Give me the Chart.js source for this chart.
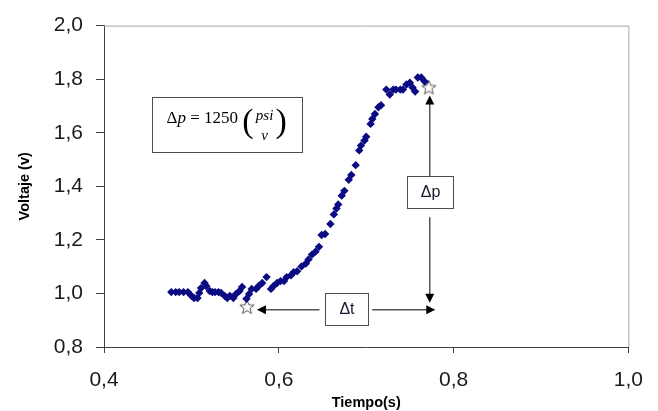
<!DOCTYPE html>
<html>
<head>
<meta charset="utf-8">
<script src="https://cdn.jsdelivr.net/npm/chart.js@4/dist/chart.umd.min.js"></script>
<style>
  html, body { margin: 0; padding: 0; background: #fff; }
</style>
</head>
<body>
<canvas id="voltage-chart" width="658" height="411"></canvas>
<script>
// measured samples: time (s) and voltage (v)
const timeValues = [
  0.477, 0.482, 0.486, 0.491, 0.496, 0.500, 0.503, 0.507, 0.509, 0.511,
  0.515, 0.517, 0.521, 0.524, 0.527, 0.531, 0.534, 0.538, 0.541, 0.544,
  0.548, 0.551, 0.555, 0.558, 0.563, 0.566, 0.569, 0.574, 0.577, 0.581,
  0.586, 0.591, 0.594, 0.598, 0.602, 0.606, 0.609, 0.614, 0.617, 0.621,
  0.626, 0.631, 0.634, 0.638, 0.642, 0.646, 0.649, 0.653, 0.659, 0.663,
  0.666, 0.668, 0.672, 0.675, 0.680, 0.683, 0.688, 0.692, 0.694, 0.698,
  0.700, 0.705, 0.707, 0.710, 0.714, 0.717, 0.723, 0.727, 0.731, 0.734,
  0.739, 0.742, 0.746, 0.750, 0.753, 0.756, 0.759, 0.763, 0.767
];
const voltageValues = [
  1.005, 1.005, 1.005, 1.005, 1.005, 0.991, 0.983, 0.983, 1.002, 1.020,
  1.039, 1.028, 1.009, 1.005, 1.005, 1.005, 1.002, 0.991, 0.983, 0.991,
  0.983, 0.998, 1.009, 1.024, 0.980, 0.998, 1.017, 1.017, 1.028, 1.039,
  1.061, 1.017, 1.028, 1.039, 1.046, 1.046, 1.061, 1.068, 1.079, 1.083,
  1.101, 1.112, 1.127, 1.145, 1.156, 1.174, 1.218, 1.222, 1.259, 1.295,
  1.317, 1.332, 1.365, 1.383, 1.424, 1.442, 1.479, 1.534, 1.552, 1.571,
  1.585, 1.633, 1.651, 1.670, 1.695, 1.703, 1.761, 1.743, 1.761, 1.761,
  1.761, 1.761, 1.780, 1.787, 1.769, 1.754, 1.806, 1.806, 1.791
];
// start and end of the pressure step (star markers)
const markerTimes = [0.5636, 0.7716];
const markerVoltages = [0.950, 1.769];

const xTicks = [0.4, 0.6, 0.8, 1.0];
const yTicks = [0.8, 1.0, 1.2, 1.4, 1.6, 1.8, 2.0];

function toPoints(xs, ys) {
  return xs.map((x, i) => ({ x: x, y: ys[i] }));
}

function commaLabel(value) {
  return (Math.round(value * 10) / 10).toFixed(1).replace('.', ',');
}

// hollow five point star used as point style
function makeStar() {
  const c = document.createElement('canvas');
  c.width = 18;
  c.height = 18;
  const g = c.getContext('2d');
  g.beginPath();
  for (let i = 0; i < 10; i++) {
    const r = i % 2 === 0 ? 7.5 : 3.2;
    const a = -Math.PI / 2 + i * Math.PI / 5;
    const px = 9 + r * Math.cos(a);
    const py = 9.5 + r * Math.sin(a);
    if (i === 0) g.moveTo(px, py); else g.lineTo(px, py);
  }
  g.closePath();
  g.fillStyle = '#ffffff';
  g.fill();
  g.strokeStyle = '#555555';
  g.lineWidth = 1;
  g.stroke();
  return c;
}

// annotation layout in data units
const notes = {
  formulaBox: { x0: 0.4545, x1: 0.6261, y0: 1.732, y1: 1.527 },
  dtBox: { x0: 0.6534, x1: 0.7023, y0: 1.002, y1: 0.884 },
  dtArrowY: 0.939,
  dtLeft: [0.6466, 0.5750],
  dtRight: [0.7068, 0.7790],
  dpBox: { x0: 0.7466, x1: 0.7989, y0: 1.4385, y1: 1.3174 },
  dpArrowX: 0.7727,
  dpUp: [1.4385, 1.739],
  dpDown: [1.2844, 0.965]
};

function arrowHead(ctx, x, y, dir) {
  const len = 9, half = 4.5;
  ctx.beginPath();
  if (dir === 'left') { ctx.moveTo(x, y); ctx.lineTo(x + len, y - half); ctx.lineTo(x + len, y + half); }
  if (dir === 'right') { ctx.moveTo(x, y); ctx.lineTo(x - len, y - half); ctx.lineTo(x - len, y + half); }
  if (dir === 'up') { ctx.moveTo(x, y); ctx.lineTo(x - half, y + len); ctx.lineTo(x + half, y + len); }
  if (dir === 'down') { ctx.moveTo(x, y); ctx.lineTo(x - half, y - len); ctx.lineTo(x + half, y - len); }
  ctx.closePath();
  ctx.fillStyle = '#000';
  ctx.fill();
}

function drawBox(ctx, sx, sy, b) {
  const l = Math.round(sx.getPixelForValue(b.x0)) + 0.5;
  const r = Math.round(sx.getPixelForValue(b.x1)) + 0.5;
  const t = Math.round(sy.getPixelForValue(b.y0)) + 0.5;
  const bt = Math.round(sy.getPixelForValue(b.y1)) + 0.5;
  ctx.fillStyle = '#fff';
  ctx.fillRect(l, t, r - l, bt - t);
  ctx.strokeStyle = '#4d4d4d';
  ctx.lineWidth = 1;
  ctx.strokeRect(l, t, r - l, bt - t);
  return { l: l, r: r, t: t, b: bt, cx: (l + r) / 2, cy: (t + bt) / 2 };
}

const overlayPlugin = {
  id: 'overlay',
  beforeDatasetsDraw(chart) {
    const { ctx, chartArea } = chart;
    ctx.save();
    ctx.strokeStyle = '#a6a6a6';
    ctx.lineWidth = 1;
    ctx.beginPath();
    ctx.moveTo(chartArea.left, chartArea.top + 0.5);
    ctx.lineTo(chartArea.right + 0.5, chartArea.top + 0.5);
    ctx.lineTo(chartArea.right + 0.5, chartArea.bottom);
    ctx.stroke();
    ctx.restore();
  },
  afterDatasetsDraw(chart) {
    const { ctx } = chart;
    const sx = chart.scales.x, sy = chart.scales.y;
    ctx.save();

    // formula box
    const f = drawBox(ctx, sx, sy, notes.formulaBox);
    ctx.fillStyle = '#000';
    ctx.textBaseline = 'alphabetic';
    ctx.textAlign = 'left';
    let x = f.l + 14;
    const base = f.t + 25.5;
    ctx.font = '17px "Liberation Serif"';
    ctx.fillText('\u0394', x, base);
    x += ctx.measureText('\u0394').width;
    ctx.font = 'italic 17px "Liberation Serif"';
    ctx.fillText('p', x, base);
    x += ctx.measureText('p').width;
    ctx.font = '17px "Liberation Serif"';
    ctx.fillText(' = 1250 ', x, base);
    x += ctx.measureText(' = 1250 ').width;
    ctx.font = '34px "Liberation Serif"';
    ctx.fillText('(', x, base + 9);
    const parenW = ctx.measureText('(').width;
    const fracCx = x + parenW + 11;
    ctx.fillText(')', fracCx + 11, base + 9);
    ctx.textAlign = 'center';
    ctx.font = 'italic 15px "Liberation Serif"';
    ctx.fillText('psi', fracCx, base - 3);
    ctx.fillText('v', fracCx, base + 17);

    ctx.strokeStyle = '#555';
    ctx.lineWidth = 1.5;

    // delta t: horizontal double arrow
    const ay = sy.getPixelForValue(notes.dtArrowY);
    const l0 = sx.getPixelForValue(notes.dtLeft[0]), l1 = sx.getPixelForValue(notes.dtLeft[1]);
    const r0 = sx.getPixelForValue(notes.dtRight[0]), r1 = sx.getPixelForValue(notes.dtRight[1]);
    ctx.beginPath();
    ctx.moveTo(l0, ay); ctx.lineTo(l1 + 8, ay);
    ctx.moveTo(r0, ay); ctx.lineTo(r1 - 8, ay);
    ctx.stroke();
    arrowHead(ctx, l1, ay, 'left');
    arrowHead(ctx, r1, ay, 'right');

    // delta p: vertical double arrow
    const ax = sx.getPixelForValue(notes.dpArrowX);
    const u0 = sy.getPixelForValue(notes.dpUp[0]), u1 = sy.getPixelForValue(notes.dpUp[1]);
    const d0 = sy.getPixelForValue(notes.dpDown[0]), d1 = sy.getPixelForValue(notes.dpDown[1]);
    ctx.beginPath();
    ctx.moveTo(ax, u0); ctx.lineTo(ax, u1 + 8);
    ctx.moveTo(ax, d0); ctx.lineTo(ax, d1 - 8);
    ctx.stroke();
    arrowHead(ctx, ax, u1, 'up');
    arrowHead(ctx, ax, d1, 'down');

    const t = drawBox(ctx, sx, sy, notes.dtBox);
    const p = drawBox(ctx, sx, sy, notes.dpBox);
    ctx.fillStyle = '#1a1a2e';
    ctx.font = '16px "Liberation Sans"';
    ctx.textAlign = 'center';
    ctx.textBaseline = 'middle';
    ctx.fillText('\u0394t', t.cx, t.cy);
    ctx.fillText('\u0394p', p.cx, p.cy);

    ctx.restore();
  }
};

const data = {
  datasets: [{
    label: 'Voltaje',
    data: toPoints(timeValues, voltageValues),
    pointStyle: 'rectRot',
    pointRadius: 4.2,
    backgroundColor: '#0a0a82',
    borderColor: '#0a0a82',
    borderWidth: 0,
    showLine: false
  }, {
    label: 'Marcas',
    data: toPoints(markerTimes, markerVoltages),
    pointStyle: makeStar(),
    pointRadius: 8,
    showLine: false
  }]
};

const config = {
  type: 'scatter',
  data,
  plugins: [overlayPlugin],
  options: {
    responsive: false,
    animation: false,
    devicePixelRatio: 1,
    layout: { autoPadding: false, padding: { top: 20, right: 26, left: 0, bottom: 0 } },
    plugins: {
      legend: { display: false },
      tooltip: { enabled: false }
    },
    scales: {
      x: {
        type: 'linear',
        min: 0.4,
        max: 1.0,
        afterFit(scale) { scale.height = 64; },
        afterBuildTicks(scale) { scale.ticks = xTicks.map(v => ({ value: v })); },
        ticks: {
          callback: commaLabel,
          color: '#1a1a1a',
          padding: 15,
          font: { family: '"Liberation Sans"', size: 21 }
        },
        grid: { drawOnChartArea: false, drawTicks: true, tickLength: 6, color: '#404040' },
        border: { color: '#404040', width: 1 },
        title: {
          display: true,
          text: 'Tiempo(s)',
          color: '#000',
          padding: { top: 0, bottom: -1 },
          font: { family: '"Liberation Sans"', size: 14.5, weight: 'bold' }
        }
      },
      y: {
        type: 'linear',
        min: 0.8,
        max: 2.0,
        afterFit(scale) { scale.width = 104; },
        afterBuildTicks(scale) { scale.ticks = yTicks.map(v => ({ value: v })); },
        ticks: {
          callback: commaLabel,
          color: '#1a1a1a',
          padding: 13,
          font: { family: '"Liberation Sans"', size: 21 }
        },
        grid: { drawOnChartArea: false, drawTicks: true, tickLength: 8, color: '#404040' },
        border: { color: '#404040', width: 1 },
        title: {
          display: true,
          text: 'Voltaje (v)',
          color: '#000',
          padding: { top: 16, bottom: 0 },
          font: { family: '"Liberation Sans"', size: 14.5, weight: 'bold' }
        }
      }
    }
  }
};

const voltageChart = new Chart(document.querySelector('#voltage-chart'), config);
</script>
</body>
</html>
